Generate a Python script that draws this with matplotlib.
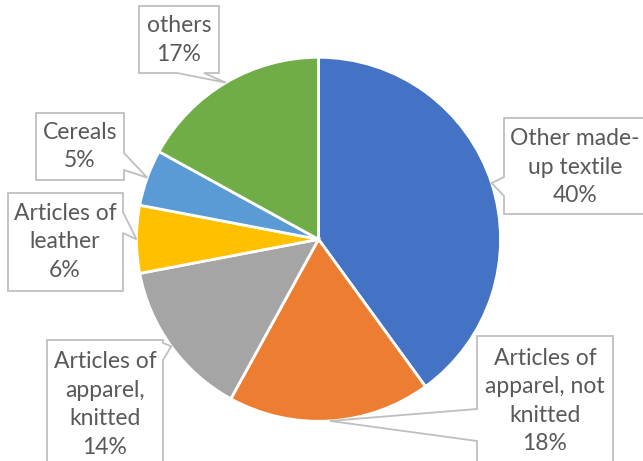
import matplotlib
matplotlib.use('Agg')
import matplotlib.pyplot as plt
from matplotlib.patches import Polygon
import numpy as np

labels = ["Other made-\nup textile", "Articles of\napparel, not\nknitted", "Articles of\napparel,\nknitted",
          "Articles of\nleather", "Cereals", "others"]
values = [40, 18, 14, 6, 5, 17]
colors = ["#4472C4", "#ED7D31", "#A5A5A5", "#FFC000", "#5B9BD5", "#70AD47"]

W, H = 643, 461
fig = plt.figure(figsize=(W / 100, H / 100), dpi=100)
ax = fig.add_axes([0, 0, 1, 1])
cx, cy, R = 318.5, H - 239.3, 182
wedges, _ = ax.pie(values, colors=colors, startangle=90, counterclock=False,
                   center=(cx, cy), radius=R,
                   wedgeprops=dict(edgecolor='white', linewidth=2.0))
ax.set_xlim(0, W)
ax.set_ylim(0, H)
ax.set_aspect('equal')
ax.axis('off')

# callout layout in pixel coords: box (x0,y0,x1,y1), pointer side, pointer base, text center
layout = [
    ((504, 118, 650, 214), 'left', (177, 196), (575, 167)),
    ((477, 336, 613, 470), 'left', (409, 441), (545, 401)),
    ((47, 340, 163, 470), 'right', (343, 360), (105, 404.5)),
    ((8, 193, 123, 291), 'right', (212, 233), (65, 242)),
    ((36, 113, 124, 180), 'right', (153, 170), (80, 146.5)),
    ((139, 6, 219, 73), 'bottom', (177, 204), (179, 40)),
]

total = sum(values)
for w, lab, v, (box, side, (a, b), (tx, ty)) in zip(wedges, labels, values, layout):
    th = np.deg2rad((w.theta1 + w.theta2) / 2)
    tipx = w.center[0] + w.r * np.cos(th)
    tipy = H - (w.center[1] + w.r * np.sin(th))  # to pixel coords
    x0, y0, x1, y1 = box
    if side == 'left':
        pts = [(x0, y0), (x1, y0), (x1, y1), (x0, y1), (x0, b), (tipx, tipy), (x0, a)]
    elif side == 'right':
        pts = [(x0, y0), (x1, y0), (x1, a), (tipx, tipy), (x1, b), (x1, y1), (x0, y1)]
    else:
        pts = [(x0, y0), (x1, y0), (x1, y1), (b, y1), (tipx, tipy), (a, y1), (x0, y1)]
    pts = [(px, H - py) for px, py in pts]
    ax.add_patch(Polygon(pts, closed=True, facecolor='white', edgecolor='#BFBFBF',
                         linewidth=1.3, zorder=3, clip_on=False))
    ax.text(tx, H - ty, f"{lab}\n{round(100 * v / total)}%", ha='center', va='center',
            fontsize=16.5, family='Lato', color='#595959', linespacing=1.44, zorder=4)

fig.savefig('out.png', dpi=100)
